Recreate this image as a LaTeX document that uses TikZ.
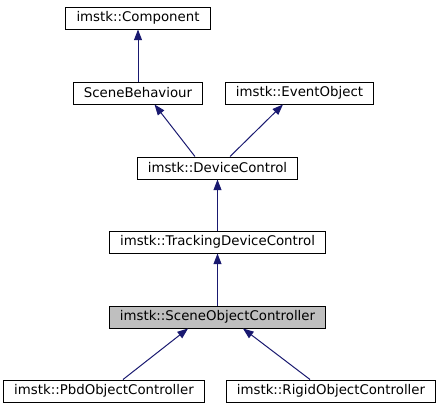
\documentclass[tikz,border=0pt]{standalone}
\usepackage{fontspec}
\setmainfont{DejaVu Sans}
\usetikzlibrary{arrows.meta}
\definecolor{edgeblue}{HTML}{191970}
\definecolor{focusgray}{HTML}{BFBFBF}
\begin{document}
\begin{tikzpicture}[x=0.75pt, y=-0.75pt]
\tikzstyle{block} = [draw, rectangle, line width=0.75pt, minimum height=16.5pt, inner xsep=8pt, inner ysep=0pt, text centered, font=\fontsize{10pt}{12pt}\selectfont]
\tikzstyle{line} = [draw, edgeblue, line width=0.75pt, -{Triangle[length=8pt,width=6pt]}]

\useasboundingbox (0,0) rectangle (439,411);

\node [block] (comp) at (138,18) {imstk::Component};
\node [block] (behav) at (138,93) {SceneBehaviour};
\node [block] (event) at (299.5,93) {imstk::EventObject};
\node [block] (device) at (217.5,168) {imstk::DeviceControl};
\node [block] (tracking) at (217.5,242) {imstk::TrackingDeviceControl};
\node [block, fill=focusgray] (soc) at (217.5,317) {imstk::SceneObjectController};
\node [block] (pbd) at (104,391) {imstk::PbdObjectController};
\node [block] (rigid) at (331,391) {imstk::RigidObjectController};

\path [line] (behav) -- (comp);
\path [line] ([xshift=-16.9pt]device.north) -- ([xshift=12.4pt]behav.south);
\path [line] ([xshift=9.4pt]device.north) -- ([xshift=-12.4pt]event.south);
\path [line] (tracking) -- (device);
\path [line] (soc) -- (tracking);
\path [line] ([xshift=14.25pt]pbd.north) -- ([xshift=-22.1pt]soc.south);
\path [line] ([xshift=-15.75pt]rigid.north) -- ([xshift=19.1pt]soc.south);

\end{tikzpicture}
\end{document}
